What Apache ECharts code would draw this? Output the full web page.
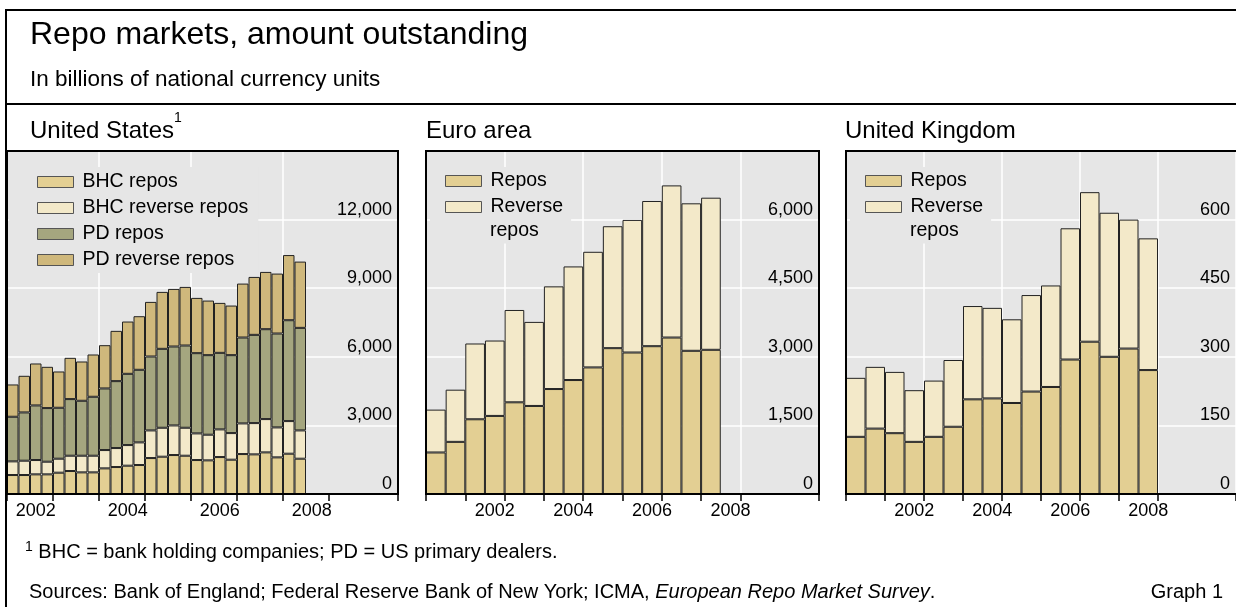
<!DOCTYPE html>
<html>
<head>
<meta charset="utf-8">
<title>Repo markets, amount outstanding</title>
<script src="https://cdn.jsdelivr.net/npm/echarts@6/dist/echarts.min.js"></script>
<style>
  html, body { margin: 0; padding: 0; background: #fff; }
  #main { width: 1236px; height: 607px; }
</style>
</head>
<body>
<div id="main"></div>
<script>
var FONT = '"Liberation Sans", Arial, Helvetica, sans-serif';
var BG = '#e6e6e6';

// x axis periods (axes run past the last observation)
var usCategories = buildPeriods(2002, 34, 4);   // quarters
var euCategories = buildPeriods(2001, 20, 2);   // half-years
var ukCategories = buildPeriods(2001, 20, 2);
var tickYears = ['2002', '2004', '2006', '2008'];
var lastGridYear = 2009;

// United States, 2002 Q1 - 2008 Q2, USD bn
var bhcRepos = [830, 830, 859, 859, 932, 1005, 946, 946, 1121, 1179, 1238, 1267, 1572, 1631, 1704, 1674, 1485, 1471, 1616, 1500, 1747, 1733, 1820, 1602, 1762, 1543];
var bhcReverse = [597, 626, 626, 553, 611, 669, 728, 728, 801, 830, 902, 990, 1209, 1266, 1295, 1223, 1165, 1121, 1209, 1164, 1340, 1368, 1456, 1310, 1427, 1238];
var pdRepos = [1951, 2111, 2388, 2345, 2228, 2476, 2403, 2578, 2694, 2927, 3116, 3174, 3232, 3451, 3451, 3597, 3509, 3480, 3348, 3408, 3756, 3859, 3931, 4106, 4411, 4484];
var pdReverse = [1412, 1602, 1835, 1805, 1587, 1805, 1718, 1849, 1892, 2198, 2286, 2344, 2388, 2490, 2519, 2562, 2417, 2387, 2184, 2169, 2359, 2533, 2505, 2621, 2849, 2898];

// Euro area, 2001 H1 - 2008 H1, EUR bn
var euRepos = [908, 1140, 1634, 1707, 2005, 1925, 2295, 2492, 2768, 3189, 3094, 3232, 3421, 3131, 3153];
var euReverse = [937, 1141, 1657, 1649, 2019, 1838, 2245, 2484, 2528, 2666, 2899, 3175, 3327, 3225, 3326];

// United Kingdom, 2001 H1 - 2008 H2, GBP bn
var ukRepos = [125, 143, 133, 114, 125, 147, 207, 209, 199, 224, 234, 294, 333, 300, 318, 271];
var ukReverse = [129, 135, 134, 113, 123, 146, 204, 198, 183, 211, 222, 287, 327, 315, 282, 288];

var colRepo = '#e3cf93';
var colCream = '#f3e9c9';
var colOlive = '#a5a67f';
var colTan = '#cfb87c';

var panelTop = 151, panelHeight = 343;
var panels = [{ left: 7, width: 391 }, { left: 426, width: 393 }, { left: 846, width: 393 }];

function buildPeriods(start, count, perYear) {
  var out = [];
  for (var i = 0; i < count; i++) {
    var y = start + Math.floor(i / perYear);
    out.push(y + (perYear === 4 ? '-Q' : '-H') + (i % perYear + 1));
  }
  return out;
}

function isLabelPeriod(v) {
  var p = v.slice(5);
  return tickYears.indexOf(v.slice(0, 4)) >= 0 && (p === 'Q3' || p === 'H2');
}

function yearStart(v) {
  return v.slice(5) === 'Q1' || v.slice(5) === 'H1';
}

function makeX(gridIndex, cats) {
  return {
    type: 'category', gridIndex: gridIndex, data: cats, boundaryGap: true,
    axisLine: { lineStyle: { color: '#000', width: 2 } },
    axisTick: {
      show: true, length: 7, lineStyle: { color: '#000', width: 1.5 },
      interval: function (i, v) { return yearStart(v) && +v.slice(0, 4) <= lastGridYear; }
    },
    axisLabel: {
      margin: 8, fontSize: 18, color: '#000', fontFamily: FONT,
      interval: function (i, v) { return isLabelPeriod(v); },
      formatter: function (v) { return v.slice(0, 4); }
    },
    splitLine: {
      show: true, lineStyle: { color: '#fff', width: 1.5 },
      interval: function (i, v) {
        var y = +v.slice(0, 4);
        return i > 0 && yearStart(v) && (y - +cats[0].slice(0, 4)) % 2 === 0 && y <= lastGridYear;
      }
    }
  };
}

function makeY(gridIndex, max, step) {
  return {
    type: 'value', gridIndex: gridIndex, min: 0, max: max, interval: step, position: 'right',
    axisLine: { show: false }, axisTick: { show: false },
    splitLine: { show: true, lineStyle: { color: '#fff', width: 1.5 } },
    axisLabel: {
      inside: true, margin: 6, fontSize: 18, color: '#000', fontFamily: FONT,
      align: 'right', verticalAlign: 'bottom', padding: [0, 0, 1, 0], showMaxLabel: false,
      formatter: function (v) { return v >= max ? '' : echarts.format.addCommas(v); }
    }
  };
}

function bar(name, data, axis, stack, color) {
  return {
    name: name, type: 'bar', stack: stack, xAxisIndex: axis, yAxisIndex: axis,
    data: data, barCategoryGap: '0%',
    itemStyle: { color: color, borderColor: '#222', borderWidth: 1 },
    emphasis: { disabled: true }
  };
}

function makeLegend(names, left, top, padding) {
  return {
    data: names, left: left, top: top, orient: 'vertical', padding: padding,
    backgroundColor: BG,
    itemWidth: 36, itemHeight: 11, itemGap: 2, icon: 'rect', selectedMode: false,
    itemStyle: { borderColor: '#555', borderWidth: 1 },
    textStyle: { fontSize: 19.5, lineHeight: 24, color: '#000', fontFamily: FONT, padding: [0, 0, 0, 4] },
    formatter: function (n) { return n === 'Reverse repos' ? 'Reverse' : n; }
  };
}

function label(x, y, text, size, extra) {
  var style = { text: text, fontSize: size, fontFamily: FONT, fill: '#000', verticalAlign: 'middle' };
  for (var k in extra) style[k] = extra[k];
  return { type: 'text', x: x, y: y, z: 100, style: style, silent: true };
}

var supStyle = { sup: { fontSize: 14, lineHeight: 14, verticalAlign: 'top', fontFamily: FONT } };

var graphics = [
  { type: 'rect', shape: { x: 6, y: 10, width: 1300, height: 700 }, style: { fill: null, stroke: '#000', lineWidth: 2 }, silent: true },
  { type: 'line', shape: { x1: 6, y1: 104, x2: 1240, y2: 104 }, style: { stroke: '#000', lineWidth: 2 }, silent: true },
  label(30, 35, 'Repo markets, amount outstanding', 32),
  label(30, 80, 'In billions of national currency units', 22.5),
  label(30, 131, 'United States{sup|1}', 24, { lineHeight: 39, rich: supStyle }),
  label(426, 131, 'Euro area', 24),
  label(845, 131, 'United Kingdom', 24),
  label(488, 231, 'repos', 19.5, { backgroundColor: BG, padding: [2, 8, 3, 2] }),
  label(908, 231, 'repos', 19.5, { backgroundColor: BG, padding: [2, 8, 3, 2] }),
  label(25, 552, '{sup|1} BHC = bank holding companies; PD = US primary dealers.', 20, { lineHeight: 23, rich: supStyle }),
  label(29, 592, 'Sources: Bank of England; Federal Reserve Bank of New York; ICMA, {it|European Repo Market Survey}.', 20, { rich: { it: { fontStyle: 'italic', fontSize: 20, fontFamily: FONT } } }),
  label(1223, 592, 'Graph 1', 20, { align: 'right' })
];
// black frame round each panel, drawn above the white grid lines
panels.forEach(function (p) {
  graphics.push({
    type: 'rect', z: 50, silent: true,
    shape: { x: p.left, y: panelTop, width: p.width, height: panelHeight },
    style: { fill: null, stroke: '#000', lineWidth: 2 }
  });
});

var myChart = echarts.init(document.getElementById('main'), null, { renderer: 'canvas' });
myChart.setOption({
  animation: false,
  textStyle: { fontFamily: FONT },
  graphic: graphics,
  grid: panels.map(function (p) {
    return { left: p.left, width: p.width, top: panelTop, height: panelHeight, show: true, backgroundColor: BG, borderWidth: 0 };
  }),
  xAxis: [makeX(0, usCategories), makeX(1, euCategories), makeX(2, ukCategories)],
  yAxis: [makeY(0, 15000, 3000), makeY(1, 7500, 1500), makeY(2, 750, 150)],
  legend: [
    makeLegend(['BHC repos', 'BHC reverse repos', 'PD repos', 'PD reverse repos'], 9, 167, [3, 10, 1, 28]),
    makeLegend(['Repos', 'Reverse repos'], 430, 167, [2, 8, 2, 15]),
    makeLegend(['Repos', 'Reverse repos'], 850, 167, [2, 8, 2, 15])
  ],
  series: [
    bar('BHC repos', bhcRepos, 0, 'us', colRepo),
    bar('BHC reverse repos', bhcReverse, 0, 'us', colCream),
    bar('PD repos', pdRepos, 0, 'us', colOlive),
    bar('PD reverse repos', pdReverse, 0, 'us', colTan),
    bar('Repos', euRepos, 1, 'ea', colRepo),
    bar('Reverse repos', euReverse, 1, 'ea', colCream),
    bar('Repos', ukRepos, 2, 'uk', colRepo),
    bar('Reverse repos', ukReverse, 2, 'uk', colCream)
  ]
});
</script>
</body>
</html>
